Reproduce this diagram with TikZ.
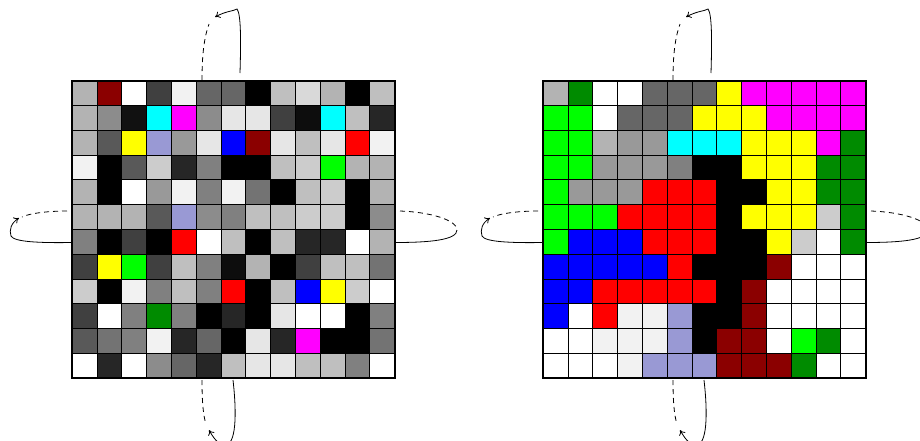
\documentclass[tikz,border=0pt]{standalone}
\usetikzlibrary{arrows.meta}
\definecolor{c00}{HTML}{000000}
\definecolor{c0D}{HTML}{0D0D0D}
\definecolor{c11}{HTML}{111111}
\definecolor{c26}{HTML}{262626}
\definecolor{c40}{HTML}{404040}
\definecolor{c59}{HTML}{595959}
\definecolor{c66}{HTML}{666666}
\definecolor{c73}{HTML}{737373}
\definecolor{c80}{HTML}{808080}
\definecolor{c8C}{HTML}{8C8C8C}
\definecolor{c99}{HTML}{999999}
\definecolor{cB3}{HTML}{B3B3B3}
\definecolor{cBF}{HTML}{BFBFBF}
\definecolor{cCC}{HTML}{CCCCCC}
\definecolor{cD9}{HTML}{D9D9D9}
\definecolor{cE6}{HTML}{E6E6E6}
\definecolor{cF2}{HTML}{F2F2F2}
\definecolor{cFF}{HTML}{FFFFFF}
\definecolor{dr}{HTML}{8B0000}
\definecolor{dg}{HTML}{008B00}
\definecolor{cy}{HTML}{00FFFF}
\definecolor{mg}{HTML}{FF00FF}
\definecolor{ye}{HTML}{FFFF00}
\definecolor{bl}{HTML}{0000FF}
\definecolor{re}{HTML}{FF0000}
\definecolor{gr}{HTML}{00FF00}
\definecolor{lv}{HTML}{9999D4}
\newcommand\mygrid[2]{%
  \foreach \row [count=\j from 0] in {#2} {
    \foreach \c [count=\i from 0] in \row {
      \fill[\c] ({#1+\i*24.8},{80.7+\j*24.8}) rectangle ++(24.8,24.8);
    }
  }
  \foreach \i in {1,...,12} \draw[cellline] ({#1+\i*24.8},80.7) -- ++(0,297.6);
  \foreach \j in {1,...,11} \draw[cellline] (#1,{80.7+\j*24.8}) -- ++(322.4,0);
  \draw[outer] (#1,80.7) rectangle ++(322.4,297.6);
}
\begin{document}
\begin{tikzpicture}[x=1pt,y=-1pt,
  cellline/.style={draw=black,line width=0.9pt},
  outer/.style={draw=black,line width=2pt},
  loopsolid/.style={line width=0.8pt},
  loopdash/.style={line width=0.8pt,dash pattern=on 5pt off 4pt},
  tipend/.style={-{To[length=5pt,width=7pt]}}]
\useasboundingbox (0,0) rectangle (920,440);
\mygrid{72.3}{
{cB3,dr,cFF,c40,cF2,c66,c66,c00,cBF,cD9,cB3,c00,cBF},
{cB3,c8C,c11,cy,mg,c8C,cE6,cE6,c40,c0D,cy,cBF,c26},
{cB3,c59,ye,lv,c99,cE6,bl,dr,cE6,cBF,cE6,re,cF2},
{cF2,c00,c59,cCC,c26,c80,c00,c00,cBF,cCC,gr,cB3,cB3},
{cB3,c00,cFF,c99,cF2,c80,cF2,c73,c00,cBF,cCC,c00,cB3},
{cB3,cB3,cB3,c59,lv,c8C,c80,cBF,cBF,cCC,cCC,c00,c8C},
{c80,c00,c40,c00,re,cFF,cBF,c00,cBF,c26,c26,cFF,cB3},
{c40,ye,gr,c40,cBF,c80,c0D,cB3,c00,c40,cBF,cBF,c73},
{cCC,c00,cF2,c80,cBF,c80,re,c00,cBF,bl,ye,cCC,cFF},
{c40,cFF,c80,dg,c80,c00,c26,c00,cE6,cFF,cFF,c00,c80},
{c59,c73,c80,cF2,c26,c66,c00,cE6,c26,mg,c00,c00,c73},
{cFF,c26,cFF,c8C,c66,c26,cBF,cE6,cE6,cBF,cBF,c80,cFF}}
\mygrid{543.3}{
{cB3,dg,cFF,cFF,c66,c66,c66,ye,mg,mg,mg,mg,mg},
{gr,gr,cFF,c66,c66,c66,ye,ye,ye,mg,mg,mg,mg},
{gr,gr,cB3,c99,c99,cy,cy,cy,ye,ye,ye,mg,dg},
{gr,gr,c99,c99,c99,c80,c00,c00,ye,ye,ye,dg,dg},
{gr,c99,c99,c99,re,re,re,c00,c00,ye,ye,dg,dg},
{gr,gr,gr,re,re,re,re,c00,ye,ye,ye,cCC,dg},
{gr,bl,bl,bl,re,re,re,c00,c00,ye,cCC,cFF,dg},
{bl,bl,bl,bl,bl,re,c00,c00,c00,dr,cFF,cFF,cFF},
{bl,bl,re,re,re,re,re,c00,dr,cFF,cFF,cFF,cFF},
{bl,cFF,re,cF2,cF2,lv,c00,c00,dr,cFF,cFF,cFF,cFF},
{cFF,cFF,cF2,cF2,cF2,lv,c00,dr,dr,cFF,gr,dg,cFF},
{cFF,cFF,cFF,cF2,lv,lv,lv,dr,dr,dr,dg,cFF,cFF}}
\foreach \ox/\g in {0/L,471/R} {
\begin{scope}[xshift=\ox pt]
  % top loop
  \coordinate (topout\g) at (240,73);
  \coordinate (toptip\g) at (215,17);
  \coordinate (topin\g) at (202,80);
  \draw[loopsolid,tipend] (topout\g) .. controls (241,40) and (241,14) .. (237,9) .. controls (234,11) and (226,11) .. (toptip\g);
  \draw[loopdash] (topin\g) .. controls (202,55) and (204,38) .. (209,24);
  % left loop
  \coordinate (leftout\g) at (72,242.5);
  \coordinate (lefttip\g) at (19,218);
  \coordinate (leftin\g) at (67,211);
  \draw[loopsolid,tipend] (leftout\g) .. controls (40,243) and (14,242) .. (11,236) .. controls (9,230) and (11,223) .. (lefttip\g);
  \draw[loopdash] (leftin\g) .. controls (50,211) and (30,213) .. (22,217);
  % right loop
  \coordinate (rightin\g) at (400,211);
  \coordinate (rightturn\g) at (457,230);
  \coordinate (rightout\g) at (395,242.5);
  \draw[loopdash] (rightin\g) .. controls (430,212) and (457,220) .. (rightturn\g);
  \draw[loopsolid] (rightturn\g) .. controls (457,240) and (430,242.5) .. (rightout\g);
  % bottom loop
  \coordinate (botin\g) at (202,380);
  \coordinate (botout\g) at (233,380);
  \coordinate (bottip\g) at (209,430);
  \draw[loopdash] (botin\g) .. controls (202,400) and (203,415) .. (206,424);
  \draw[loopsolid,tipend] (botout\g) .. controls (237,415) and (236,445) .. (225,445) .. controls (218,445) and (213,437) .. (bottip\g);
\end{scope}
}
\end{tikzpicture}
\end{document}
